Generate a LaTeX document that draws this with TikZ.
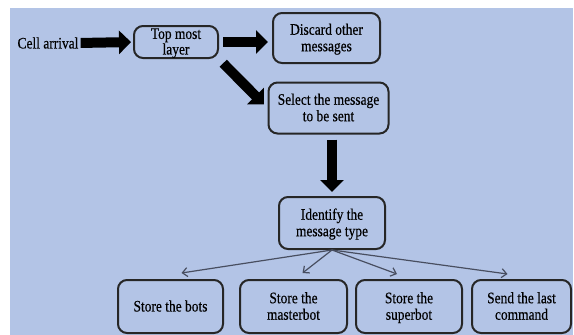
\documentclass[tikz,border=0pt]{standalone}
\usepackage{fontspec}
\setmainfont[FakeStretch=0.84,FakeBold=0.4]{Liberation Serif}
\usetikzlibrary{arrows.meta,positioning}
\definecolor{bgblue}{RGB}{179,196,230}
\definecolor{thinline}{RGB}{72,78,96}
\newcommand\boxtxt[1]{\raisebox{-6pt}[0pt][0pt]{\begin{tabular}{@{}c@{}}#1\end{tabular}}}
\tikzset{
  box/.style={draw=black!85, line width=2pt, rounded corners=9pt, fill=bgblue, inner sep=0pt,
    font=\fontsize{16}{16.5}\selectfont},
  bigarrow/.style={draw=black, line width=10pt, -{Triangle[length=12pt,width=23pt]}},
  thinarrow/.style={draw=thinline, line width=1.2pt, -{Straight Barb[length=5pt,width=9pt]}}
}
\begin{document}
\begin{tikzpicture}[x=1pt,y=-1pt]
\useasboundingbox (0,0) rectangle (574,335);
\fill[white] (0,0) rectangle (574,335);
\fill[bgblue] (10,8) rectangle (573,335);

\node[font=\fontsize{16}{16}\selectfont, inner sep=0pt] (cell) at (48,43) {Cell arrival};
\node[box, minimum width=84pt, minimum height=32pt, font=\fontsize{16}{15}\selectfont] (top) at (176,42) {\boxtxt{Top most\\layer}};
\node[box, minimum width=107pt, minimum height=50pt] (discard) at (326.5,38) {\boxtxt{Discard other\\messages}};
\node[box, minimum width=120pt, minimum height=51pt] (select) at (328.5,108) {\boxtxt{Select the message\\to be sent}};
\node[box, minimum width=106pt, minimum height=52pt] (ident) at (332,223) {\boxtxt{Identify the\\message type}};
\node[box, minimum width=105pt, minimum height=53pt] (b1) at (170.5,306.5) {\boxtxt{Store the bots}};
\node[box, minimum width=107pt, minimum height=53pt] (b2) at (293.5,306.5) {\boxtxt{Store the\\masterbot}};
\node[box, minimum width=106pt, minimum height=53pt] (b3) at (409,306.5) {\boxtxt{Store the\\superbot}};
\node[box, minimum width=99pt, minimum height=53pt] (b4) at (521.5,306.5) {\boxtxt{Send the last\\command}};

\draw[bigarrow, shorten <=2pt, shorten >=2pt] (cell.east) -- (top.west);
\draw[bigarrow, shorten <=4pt, shorten >=4pt] (top.east) -- (top.east -| discard.west);
\draw[bigarrow, shorten <=6pt, shorten >=5pt] (top.south east) -- (select.west);
\draw[bigarrow, shorten <=5pt, shorten >=4pt] (ident.north |- select.south) -- (ident.north);

\draw[thinarrow] (ident.south) -- ([shift={(11,-6)}]b1.north);
\draw[thinarrow] (ident.south) -- ([shift={(9,-6)}]b2.north);
\draw[thinarrow] (ident.south) -- ([shift={(-12,-5)}]b3.north);
\draw[thinarrow] (ident.south) -- ([shift={(-14,-5)}]b4.north);
\end{tikzpicture}
\end{document}
